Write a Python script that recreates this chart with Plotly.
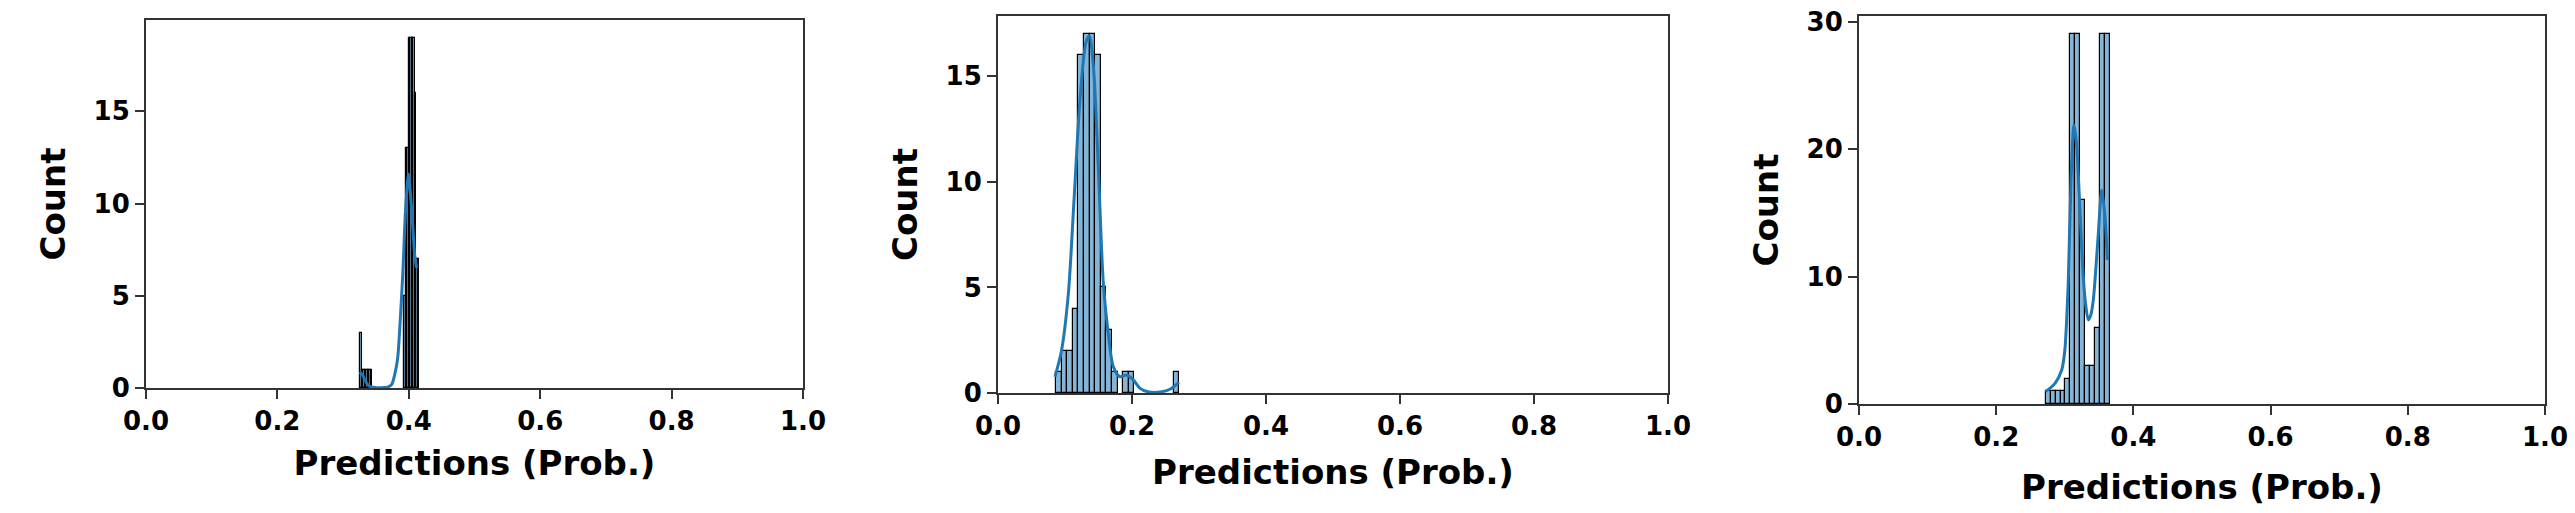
import plotly.graph_objects as go

# ---------------- data ----------------
# Panel 1 histogram (bin start, bin width, counts)
bin_start1 = 0.326
bin_width1 = 0.0023
counts1 = [3, 1, 1, 1, 1, 1, 1, 1,
           0, 0, 0, 0, 0, 0, 0, 0, 0, 0, 0, 0, 0, 0, 0, 0, 0, 0, 0, 0, 0,
           5, 13, 13, 19, 19, 19, 19, 16, 7, 7]
kde1_x = [0.325, 0.329, 0.333, 0.337, 0.342, 0.350, 0.360, 0.368, 0.374, 0.379,
          0.383, 0.387, 0.391, 0.395, 0.3995, 0.403, 0.406, 0.409, 0.412]
kde1_y = [0.85, 0.75, 0.45, 0.2, 0.06, 0.02, 0.02, 0.05, 0.2, 0.8,
          1.6, 3.7, 6.3, 9.6, 11.6, 10.3, 8.8, 7.2, 6.5]

# Panel 2
bin_start2 = 0.0866
bin_width2 = 0.00836
counts2 = [1, 2, 2, 4, 16, 17, 17, 16, 5, 3, 1, 0, 1, 1, 0, 0, 0, 0, 0, 0, 0, 1]
kde2_x = [0.0851, 0.0950, 0.105, 0.1134, 0.1224, 0.1313, 0.1363, 0.1423, 0.1497,
          0.1572, 0.1646, 0.1721, 0.182, 0.192, 0.202, 0.212, 0.225, 0.245, 0.258, 0.27]
kde2_y = [0.77, 2.04, 4.7, 9.1, 13.9, 16.6, 16.9, 15.5, 10.7,
          5.2, 2.8, 1.25, 0.77, 0.85, 0.62, 0.22, 0.05, 0.06, 0.2, 0.5]

# Panel 3
bin_start3 = 0.2721
bin_width3 = 0.00722
counts3 = [1, 1, 1, 1, 2, 29, 29, 16, 3, 3, 6, 29, 29]
kde3_x = [0.2721, 0.2857, 0.2955, 0.300, 0.3050, 0.3090, 0.3134, 0.3170, 0.3210,
          0.3260, 0.3300, 0.3343, 0.3380, 0.3416, 0.3489, 0.3538, 0.3586, 0.362]
kde3_y = [0.97, 1.62, 2.67, 4.2, 9.5, 17.5, 21.9, 20.5, 16.5,
          10.8, 8.0, 6.6, 7.0, 8.2, 13.4, 16.8, 14.7, 11.3]

y_max = [19.95, 17.85, 30.45]
y_dtick = [5, 5, 10]
x_tickvals = [0.0, 0.2, 0.4, 0.6, 0.8, 1.0]
x_label = "Predictions (Prob.)"
y_label = "Count"

# ---------------- styles ----------------
BAR_FILL = "rgba(31,119,180,0.55)"
LINE_COLOR = "#1f77b4"
SPINE = "#333333"
FONT = "DejaVu Sans"

fig = go.Figure()

panels = [
    (bin_start1, bin_width1, counts1, kde1_x, kde1_y),
    (bin_start2, bin_width2, counts2, kde2_x, kde2_y),
    (bin_start3, bin_width3, counts3, kde3_x, kde3_y),
]

x_domains = [[146 / 2575, 803 / 2575], [998 / 2575, 1668 / 2575], [1859 / 2575, 2545 / 2575]]
y_domains = [[1 - 388 / 513, 1 - 20 / 513], [1 - 393 / 513, 1 - 16 / 513], [1 - 404 / 513, 1 - 16 / 513]]

for i, (b0, bw, cnts, kx, ky) in enumerate(panels):
    xa = "x" if i == 0 else f"x{i+1}"
    ya = "y" if i == 0 else f"y{i+1}"
    centers = [b0 + bw * (k + 0.5) for k, c in enumerate(cnts) if c > 0]
    vals = [c for c in cnts if c > 0]
    fig.add_trace(go.Bar(
        x=centers, y=vals, width=bw,
        marker=dict(color=BAR_FILL, line=dict(color="black", width=1.2)),
        xaxis=xa, yaxis=ya, showlegend=False,
    ))
    fig.add_trace(go.Scatter(
        x=kx, y=ky, mode="lines",
        line=dict(color=LINE_COLOR, width=3, shape="spline", smoothing=0.8),
        xaxis=xa, yaxis=ya, showlegend=False,
    ))

tickfont = dict(family=FONT, size=26, color="black", weight="bold")
titlefont = dict(family=FONT, size=34, color="black", weight="bold")

layout = dict(
    width=2575, height=513, autosize=False,
    margin=dict(l=0, r=0, t=0, b=0),
    paper_bgcolor="white", plot_bgcolor="white",
    bargap=0,
)

x_standoff = [16, 20, 24]

for i in range(3):
    xk = "xaxis" if i == 0 else f"xaxis{i+1}"
    yk = "yaxis" if i == 0 else f"yaxis{i+1}"
    ya = "y" if i == 0 else f"y{i+1}"
    xa = "x" if i == 0 else f"x{i+1}"
    layout[xk] = dict(
        domain=x_domains[i], anchor=ya, range=[0, 1], automargin=False,
        tickvals=x_tickvals, tickformat=".1f",
        showline=True, mirror=True, linecolor=SPINE, linewidth=2,
        ticks="outside", ticklen=9, tickwidth=2, tickcolor=SPINE,
        showgrid=False, zeroline=False, tickfont=tickfont,
        title=dict(text=x_label, font=titlefont, standoff=x_standoff[i]),
    )
    layout[yk] = dict(
        domain=y_domains[i], anchor=xa, range=[0, y_max[i]], dtick=y_dtick[i],
        automargin=False,
        showline=True, mirror=True, linecolor=SPINE, linewidth=2,
        ticks="outside", ticklen=9, tickwidth=2, tickcolor=SPINE,
        showgrid=False, zeroline=False, tickfont=tickfont,
        title=dict(text=y_label, font=titlefont, standoff=18),
    )

fig.update_layout(**layout)
fig.write_html(
    "out.html",
    config={"displayModeBar": False},
    post_script="document.body.style.margin='0';document.body.style.overflow='hidden';",
)
